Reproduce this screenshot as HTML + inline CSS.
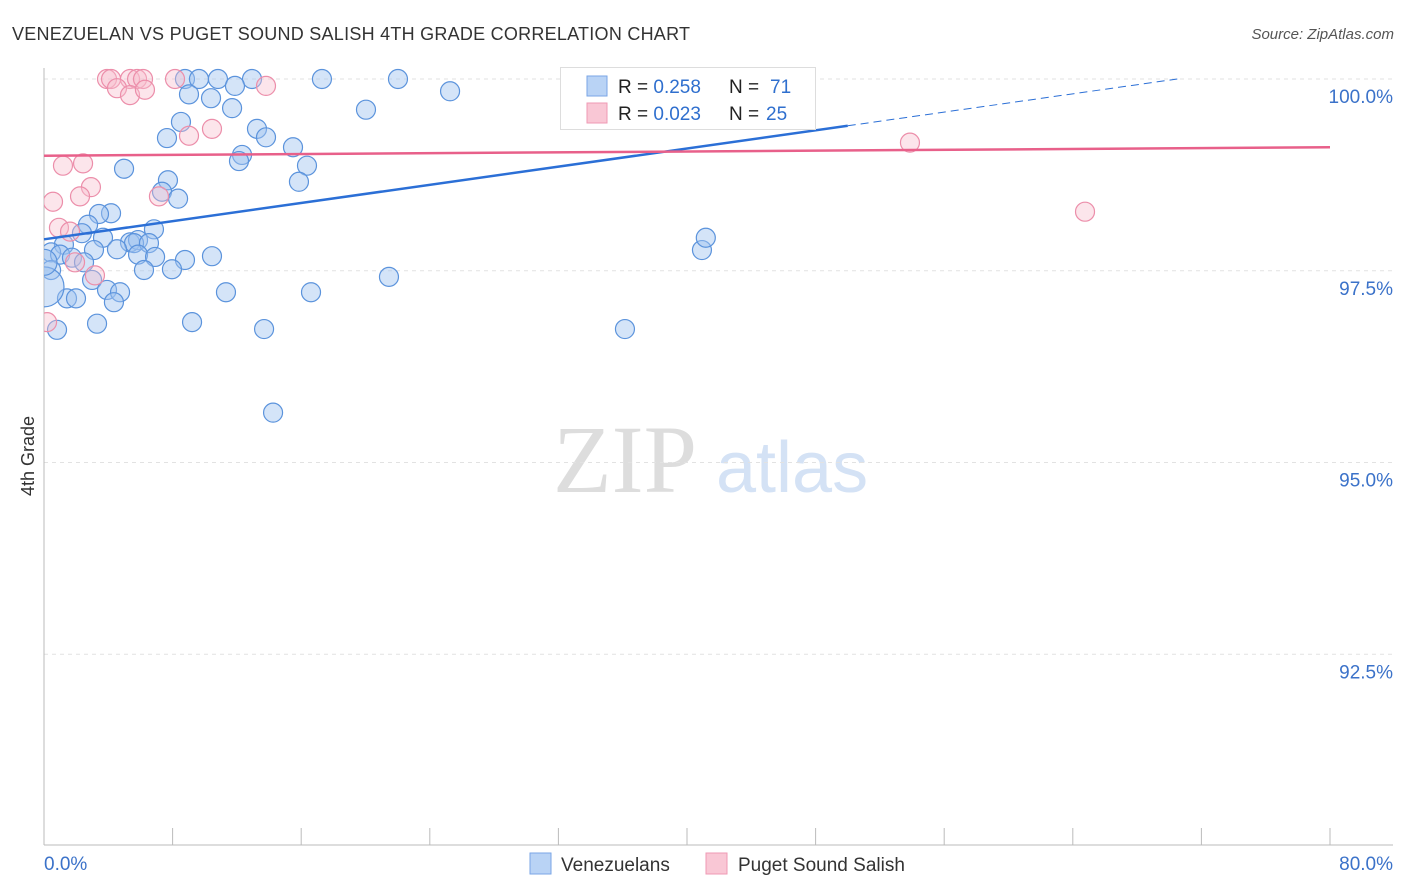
<!DOCTYPE html>
<html><head><meta charset="utf-8"><style>
body{margin:0;background:#fff;font-family:"Liberation Sans",sans-serif;}
svg{display:block}
</style></head><body>
<svg id="chart" width="1406" height="892">
<defs><clipPath id="plotclip"><rect x="44" y="50" width="1360" height="795"/></clipPath></defs>
<text x="12" y="40" font-size="18" fill="#333" textLength="678">VENEZUELAN VS PUGET SOUND SALISH 4TH GRADE CORRELATION CHART</text>
<text x="1394" y="39" font-size="15" fill="#555" font-style="italic" text-anchor="end">Source: ZipAtlas.com</text>
<text x="34" y="456" font-size="18" fill="#333" text-anchor="middle" transform="rotate(-90 34 456)">4th Grade</text>
<g><text x="553" y="492" font-size="96" fill="#ddd" font-family="Liberation Serif,serif">ZIP</text><text x="716" y="492" font-size="72" fill="#d4e2f5">atlas</text></g>
<g id="grid"></g><g id="axes"></g><g id="marks" clip-path="url(#plotclip)"></g><g id="lines"></g>
<g>
<rect x="560.5" y="67.5" width="255" height="62" fill="#fff" stroke="#ddd"/>
<rect x="587" y="76" width="20" height="20" fill="#b9d3f5" stroke="#7aa6e6"/>
<rect x="587" y="103" width="20" height="20" fill="#f9c7d5" stroke="#ef9ab4"/>
<text x="618" y="93" font-size="19" fill="#222">R = <tspan fill="#2f6fce">0.258</tspan><tspan x="729">N = </tspan><tspan fill="#2f6fce" x="770">71</tspan></text>
<text x="618" y="120" font-size="19" fill="#222">R = <tspan fill="#2f6fce">0.023</tspan><tspan x="729">N = </tspan><tspan fill="#2f6fce" x="766">25</tspan></text>
</g>
<g>
<rect x="530" y="853" width="21" height="21" fill="#b9d3f5" stroke="#7aa6e6"/>
<text x="561" y="871" font-size="19" fill="#333">Venezuelans</text>
<rect x="706" y="853" width="21" height="21" fill="#f9c7d5" stroke="#ef9ab4"/>
<text x="738" y="871" font-size="19" fill="#333">Puget Sound Salish</text>
</g>
</svg>
<script>
const blueX=[8.77,9.64,10.82,12.94,17.29,22.02,11.88,9.02,10.39,25.26,11.70,20.03,8.52,7.65,13.25,13.81,15.49,12.32,12.13,16.36,4.98,15.86,7.71,7.34,8.34,4.17,3.42,2.74,6.84,2.36,3.67,5.35,5.85,5.60,6.53,1.24,0.44,1.0,4.54,3.11,1.74,2.49,5.85,6.91,8.77,10.45,6.22,7.96,0.44,2.99,3.92,4.73,11.32,16.61,21.46,1.43,1.99,4.35,9.21,3.30,13.69,0.81,14.25,36.14,40.93,41.17,37.08,0.0,0.0];
const blueY=[100,100,100,100,100,100,99.91,99.80,99.75,99.84,99.62,99.60,99.44,99.23,99.35,99.24,99.11,99.01,98.93,98.87,98.83,98.66,98.68,98.53,98.44,98.25,98.24,98.10,98.04,97.99,97.93,97.87,97.90,97.86,97.86,97.84,97.74,97.71,97.78,97.77,97.67,97.61,97.71,97.68,97.64,97.69,97.51,97.52,97.51,97.38,97.25,97.22,97.22,97.22,97.42,97.14,97.14,97.09,96.83,96.81,96.74,96.73,95.65,96.74,97.77,97.93,99.57,97.29,97.61];
const blueR=[9.5,9.5,9.5,9.5,9.5,9.5,9.5,9.5,9.5,9.5,9.5,9.5,9.5,9.5,9.5,9.5,9.5,9.5,9.5,9.5,9.5,9.5,9.5,9.5,9.5,9.5,9.5,9.5,9.5,9.5,9.5,9.5,9.5,9.5,9.5,9.5,9.5,9.5,9.5,9.5,9.5,9.5,9.5,9.5,9.5,9.5,9.5,9.5,9.5,9.5,9.5,9.5,9.5,9.5,9.5,9.5,9.5,9.5,9.5,9.5,9.5,9.5,9.5,9.5,9.5,9.5,9.5,20,13];
const pinkX=[3.92,4.17,5.35,5.79,6.16,8.15,4.54,5.35,6.28,13.81,10.45,9.02,1.18,2.43,2.92,2.24,0.56,7.15,0.93,1.62,1.93,3.17,0.19,53.87,64.76];
const pinkY=[100,100,100,100,100,100,99.88,99.79,99.86,99.91,99.35,99.26,98.87,98.90,98.59,98.47,98.40,98.47,98.06,98.01,97.61,97.44,96.83,99.17,98.27];
const yTicks=[100,97.5,95,92.5];
const yTickLabels=["100.0%","97.5%","95.0%","92.5%"];
const xTicks=[0,8,16,24,32,40,48,56,64,72,80];
const blueFit=[97.91,99.39];const blueFitX=[0,50,70.5];const blueDashEnd=[100];
const pinkFit=[99.0,99.11];
const X=v=>44+v*16.075, Y=v=>79+(100-v)*76.7;
const NS="http://www.w3.org/2000/svg";
function mk(p,t,a){const e=document.createElementNS(NS,t);for(const k in a)e.setAttribute(k,a[k]);p.appendChild(e);return e;}
const grid=document.getElementById('grid'),axes=document.getElementById('axes'),marks=document.getElementById('marks'),lines=document.getElementById('lines');
yTicks.forEach((t,i)=>{
 const l=mk(grid,'line',{x1:44,x2:1393,y1:Y(t),y2:Y(t),stroke:'#e2e2e2','stroke-dasharray':'4,4'});
 
 
 const tx=mk(axes,'text',{x:1393,y:Y(t)+24,'font-size':19,fill:'#3b72c9','text-anchor':'end'});tx.textContent=yTickLabels[i];
 
 
});
const ax=mk(axes,'line',{x1:44,x2:1393,y1:845,y2:845,stroke:'#bbb'});


const ay=mk(axes,'line',{x1:44,x2:44,y1:68,y2:845,stroke:'#bbb'});


xTicks.forEach(t=>{const l=mk(axes,'line',{x1:X(t),x2:X(t),y1:828,y2:845,stroke:'#bbb'});
 
 });
const x0=mk(axes,'text',{x:44,y:870,'font-size':19,fill:'#3b72c9'});x0.textContent=xTicks[0].toFixed(1)+'%';


const x1=mk(axes,'text',{x:1393,y:870,'font-size':19,fill:'#3b72c9','text-anchor':'end'});x1.textContent=xTicks[xTicks.length-1].toFixed(1)+'%';


blueX.forEach((v,i)=>{const c=mk(marks,'circle',{cx:X(v),cy:Y(blueY[i]),r:blueR[i],fill:'rgba(160,196,240,0.45)',stroke:'#5b93dc','stroke-width':1.2});
 
 });
pinkX.forEach((v,i)=>{const c=mk(marks,'circle',{cx:X(v),cy:Y(pinkY[i]),r:9.5,fill:'rgba(248,190,206,0.4)',stroke:'#ec8eaa','stroke-width':1.2});
 
 });
const bl=mk(lines,'line',{x1:X(blueFitX[0]),y1:Y(blueFit[0]),x2:X(blueFitX[1]),y2:Y(blueFit[1]),stroke:'#2b6fd6','stroke-width':2.5});


const bd=mk(lines,'line',{x1:X(blueFitX[1]),y1:Y(blueFit[1]),x2:X(blueFitX[2]),y2:Y(blueDashEnd[0]),stroke:'#2b6fd6','stroke-width':1,'stroke-dasharray':'8,5'});


const pl=mk(lines,'line',{x1:X(0),y1:Y(pinkFit[0]),x2:X(80),y2:Y(pinkFit[1]),stroke:'#e8608a','stroke-width':2.5});


</script>
</body></html>
